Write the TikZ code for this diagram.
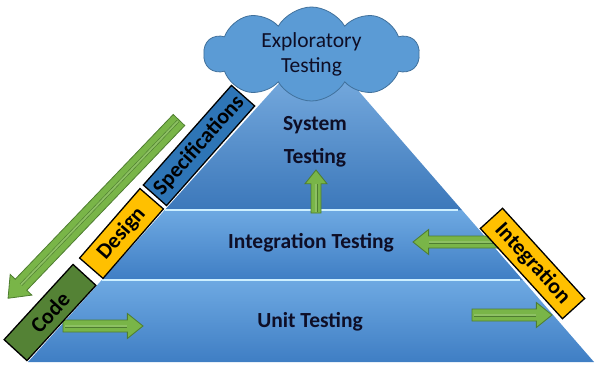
\documentclass[tikz,border=0pt]{standalone}
\usepackage{fontspec}
\setmainfont{Carlito}
\usetikzlibrary{calc,shapes.symbols}
\definecolor{skyblue}{HTML}{5B9BD5}
\definecolor{cloudline}{HTML}{41719C}
\definecolor{bandlight}{HTML}{6EA9E2}
\definecolor{banddark}{HTML}{3F7EC4}
\definecolor{rimline}{HTML}{CDEFFF}
\definecolor{codegreen}{HTML}{548235}
\definecolor{amber}{HTML}{FFC000}
\definecolor{specblue}{HTML}{2E75B6}
\definecolor{leaf}{HTML}{79B548}
\definecolor{leafdark}{HTML}{4E7D30}
\definecolor{ink}{HTML}{0E0E26}

% green block arrow: tail, angle, length, shaft half width, head half width
\newcommand{\leafarrow}[5]{%
  \begin{scope}[shift={#1},rotate=#2]
    \filldraw[fill=leaf,draw=leafdark,line width=0.8pt,line join=miter]
      (0,-#4) -- (#3-1.25*#5,-#4) -- (#3-1.25*#5,-#5) -- (#3,0)
      -- (#3-1.25*#5,#5) -- (#3-1.25*#5,#4) -- (0,#4) -- cycle;
    \draw[leafdark,line width=0.6pt,double=leaf!85!white,double distance=1.8pt]
      (1.5,0) -- (#3-1.25*#5,0);
  \end{scope}}

\begin{document}
\begin{tikzpicture}[x=1pt,y=1pt,
  ttl/.style={font=\fontsize{21.5}{25}\selectfont\bfseries,text=ink},
  tag/.style={draw=black,line width=1.3pt,inner sep=0pt,
              font=\fontsize{22}{26}\selectfont\bfseries,text=black},
  rim/.style={rimline,line width=2.4pt}]
\useasboundingbox (0,0) rectangle (600,368);

% pyramid corners and band edges
\coordinate (bl) at (28,6);
\coordinate (br) at (594,6);
\coordinate (ap) at (316,326);
\coordinate (l1) at ($(bl)!0.256!(ap)$);
\coordinate (r1) at ($(br)!0.256!(ap)$);
\coordinate (l2) at ($(bl)!0.475!(ap)$);
\coordinate (r2) at ($(br)!0.475!(ap)$);

% three bands
\shade[top color=bandlight,bottom color=banddark] (bl) -- (br) -- (r1) -- (l1) -- cycle;
\shade[top color=bandlight,bottom color=banddark] (l1) -- (r1) -- (r2) -- (l2) -- cycle;
\shade[top color=bandlight!85!white,bottom color=banddark!95!black] (l2) -- (r2) -- (ap) -- cycle;
\draw[rim] (l1) -- ($(r1)+(-3,0)$);
\draw[rim] (l2) -- ($(r2)+(-4,0)$);

% cloud on the top
\node[cloud,cloud puffs=10,cloud puff arc=120,aspect=2.3,fill=skyblue,draw=cloudline,
      line width=0.8pt,minimum width=215pt,minimum height=94pt,inner sep=0pt,
      align=center,font=\fontsize{21.5}{25}\selectfont,text=ink] (explo) at (311.5,314)
  {Exploratory\\Testing};

% arrows
\leafarrow{(316,155)}{90}{43}{5}{11}
\leafarrow{(500,126)}{180}{87}{6}{12.5}
\leafarrow{(63,42)}{0}{80}{6}{12.5}
\leafarrow{(472,53)}{0}{80}{6}{12.5}
\leafarrow{(179,248)}{226.2}{247}{8}{15}

% level labels
\node[ttl,anchor=base] (sys) at (315,238) {System};
\node[ttl,anchor=base] (systest) at (315,205) {Testing};
\node[ttl,anchor=base] (integtest) at (311,120) {Integration Testing};
\node[ttl,anchor=base] (unittest) at (310,41) {Unit Testing};

% phase boxes along the sides
\node[tag,fill=codegreen,minimum width=102pt,minimum height=31pt,rotate=47.5] (code) at (50,55.5) {Code};
\node[tag,fill=amber,minimum width=92pt,minimum height=31pt,rotate=49] (design) at (121.5,134.5) {Design};
\node[tag,fill=specblue,minimum width=133pt,minimum height=31pt,rotate=48.5] (spec) at (199,222.5) {Specifications};
\node[tag,fill=amber,minimum width=122pt,minimum height=30pt,rotate=-47.7] (integ) at (532.5,104.5) {Integration};
\end{tikzpicture}
\end{document}
